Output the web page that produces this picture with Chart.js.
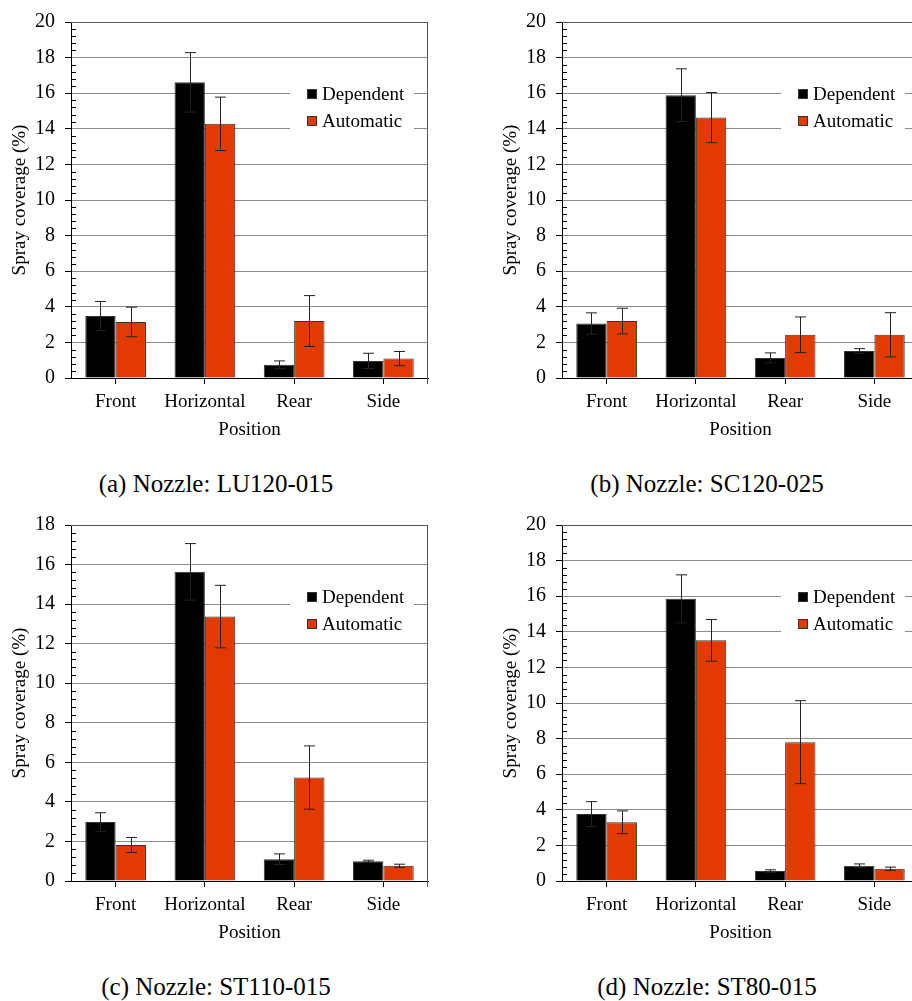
<!DOCTYPE html>
<html>
<head>
<meta charset="utf-8">
<script src="https://cdn.jsdelivr.net/npm/chart.js@4.4.1/dist/chart.umd.min.js"></script>
<style>
  html, body { margin: 0; padding: 0; background: #fff; }
  body { width: 912px; height: 1001px; overflow: hidden; position: relative; }
  canvas { position: absolute; }
  .cap {
    position: absolute; width: 456px; text-align: center;
    font-size: 25px; line-height: 28px; color: #000;
  }
</style>
</head>
<body>
<canvas id="chartA" width="456" height="460" style="left:0;top:0"></canvas>
<canvas id="chartB" width="456" height="460" style="left:491px;top:0"></canvas>
<canvas id="chartC" width="456" height="460" style="left:0;top:503px"></canvas>
<canvas id="chartD" width="456" height="460" style="left:491px;top:503px"></canvas>
<div class="cap" style="left:-12px;top:470px">(a) Nozzle: LU120-015</div>
<div class="cap" style="left:479px;top:470px">(b) Nozzle: SC120-025</div>
<div class="cap" style="left:-12px;top:973px">(c) Nozzle: ST110-015</div>
<div class="cap" style="left:479px;top:973px">(d) Nozzle: ST80-015</div>
<script>
const categories = ["Front", "Horizontal", "Rear", "Side"];
const seriesNames = ["Dependent", "Automatic"];

// (a) LU120-015
const depA = [3.48, 16.61, 0.74, 0.96];
const depErrA = [0.82, 1.67, 0.22, 0.43];
const autoA = [3.15, 14.28, 3.20, 1.09];
const autoErrA = [0.83, 1.50, 1.43, 0.40];
// (b) SC120-025
const depB = [3.06, 15.89, 1.13, 1.52];
const depErrB = [0.60, 1.48, 0.28, 0.13];
const autoB = [3.20, 14.63, 2.43, 2.43];
const autoErrB = [0.72, 1.41, 1.00, 1.24];
// (c) ST110-015
const depC = [2.98, 15.63, 1.10, 1.00];
const depErrC = [0.47, 1.43, 0.27, 0.05];
const autoC = [1.82, 13.37, 5.23, 0.77];
const autoErrC = [0.38, 1.58, 1.60, 0.08];
// (d) ST80-015
const depD = [3.76, 15.85, 0.56, 0.85];
const depErrD = [0.70, 1.35, 0.07, 0.11];
const autoD = [3.30, 13.52, 7.80, 0.69];
const autoErrD = [0.64, 1.17, 2.33, 0.09];

const yMaxA = 20, yMaxB = 20, yMaxC = 18, yMaxD = 20;

// find a serif face that is really installed
function pickSerif() {
  const c = document.createElement("canvas").getContext("2d");
  const probe = "Nozzle Horizontal 0123456789";
  const widthOf = f => { c.font = "40px " + f; return c.measureText(probe).width; };
  const names = ["Liberation Serif", "Tinos", "Times New Roman", "Times", "DejaVu Serif", "Noto Serif"];
  for (const n of names) {
    const a = widthOf(`"${n}", monospace`), b = widthOf(`"${n}", sans-serif`);
    if (Math.abs(a - b) < 0.01) return n;
  }
  return "serif";
}
const serif = `"${pickSerif()}", serif`;
document.querySelectorAll(".cap").forEach(el => el.style.fontFamily = serif);

const black = "#000000";
const red = "#e23a00";

// error bars, minor ticks, frame and in-plot legend
const extras = {
  id: "extras",
  beforeDatasetsDraw(chart) {
    const { ctx, chartArea: a, scales: { y } } = chart;
    ctx.save();
    // minor ticks every 0.4 on the inside of the y axis
    ctx.strokeStyle = "#000";
    ctx.lineWidth = 1;
    for (let k = 1; k * 0.4 < y.max; k++) {
      if (k % 5 === 0) continue;
      const py = Math.round(y.getPixelForValue(k * 0.4)) + 0.5;
      ctx.beginPath();
      ctx.moveTo(a.left, py);
      ctx.lineTo(a.left + 5, py);
      ctx.stroke();
    }
    // frame top and right
    ctx.strokeStyle = "#555";
    ctx.beginPath();
    ctx.moveTo(a.left, a.top + 0.5);
    ctx.lineTo(a.right, a.top + 0.5);
    ctx.moveTo(a.right - 0.5, a.top);
    ctx.lineTo(a.right - 0.5, a.bottom + 6);
    ctx.stroke();
    // legend box
    const lx = a.left + 219, ly = a.top + 54;
    ctx.fillStyle = "#fff";
    ctx.fillRect(lx, ly, 124, 64);
    ctx.font = "19px " + serif;
    ctx.textBaseline = "middle";
    chart.data.datasets.forEach((ds, i) => {
      const cy = a.top + 72 + i * 27;
      ctx.fillStyle = ds.backgroundColor;
      ctx.fillRect(lx + 17, cy - 5, 10, 10);
      ctx.strokeStyle = "#333";
      ctx.strokeRect(lx + 17.5, cy - 4.5, 9, 9);
      ctx.fillStyle = "#000";
      ctx.fillText(ds.label, lx + 32, cy + 1);
    });
    ctx.restore();
  },
  afterDatasetsDraw(chart) {
    const { ctx, scales: { y } } = chart;
    ctx.save();
    ctx.strokeStyle = "#222";
    ctx.lineWidth = 1;
    chart.data.datasets.forEach((ds, i) => {
      const meta = chart.getDatasetMeta(i);
      meta.data.forEach((bar, j) => {
        const v = ds.data[j], e = ds.errors[j];
        const x = Math.round(bar.x) + 0.5;
        const top = y.getPixelForValue(v + e);
        const bot = y.getPixelForValue(v - e);
        ctx.beginPath();
        ctx.moveTo(x, top); ctx.lineTo(x, bot);
        ctx.moveTo(x - 5.5, top); ctx.lineTo(x + 5.5, top);
        ctx.moveTo(x - 5.5, bot); ctx.lineTo(x + 5.5, bot);
        ctx.stroke();
      });
    });
    ctx.restore();
  }
};

function makeChart(id, dep, depErr, auto, autoErr, yMax) {
  return new Chart(document.getElementById(id), {
    type: "bar",
    data: {
      labels: categories,
      datasets: [
        { label: seriesNames[0], data: dep, errors: depErr, backgroundColor: black, borderColor: "#333", borderWidth: 1 },
        { label: seriesNames[1], data: auto, errors: autoErr, backgroundColor: red, borderColor: "#333", borderWidth: 1 }
      ]
    },
    options: {
      responsive: false,
      animation: false,
      layout: { padding: { left: 0, top: 18, right: 28, bottom: 16.6 } },
      datasets: { bar: { categoryPercentage: 0.68, barPercentage: 1.0 } },
      plugins: { legend: { display: false }, tooltip: { enabled: false } },
      scales: {
        x: {
          afterFit: s => { s.height = 65.4; },
          grid: { display: true, drawOnChartArea: false, offset: false, tickLength: 6, color: "#000" },
          border: { display: true, color: "#000" },
          ticks: { color: "#000", padding: 7, font: { family: serif, size: 19 } },
          title: { display: true, text: "Position", color: "#000", padding: { top: 0, bottom: 2 }, font: { family: serif, size: 19 } }
        },
        y: {
          min: 0, max: yMax,
          afterFit: s => { s.width = 71; },
          grid: { color: "#8a8a8a", tickColor: "#000", tickLength: 6 },
          border: { display: true, color: "#000" },
          ticks: { stepSize: 2, color: "#000", padding: 10, font: { family: serif, size: 20 } },
          title: { display: true, text: "Spray coverage (%)", color: "#000", padding: { top: 9, bottom: 0 }, font: { family: serif, size: 19 } }
        }
      }
    },
    plugins: [extras]
  });
}

makeChart("chartA", depA, depErrA, autoA, autoErrA, yMaxA);
makeChart("chartB", depB, depErrB, autoB, autoErrB, yMaxB);
makeChart("chartC", depC, depErrC, autoC, autoErrC, yMaxC);
makeChart("chartD", depD, depErrD, autoD, autoErrD, yMaxD);
</script>
</body>
</html>
